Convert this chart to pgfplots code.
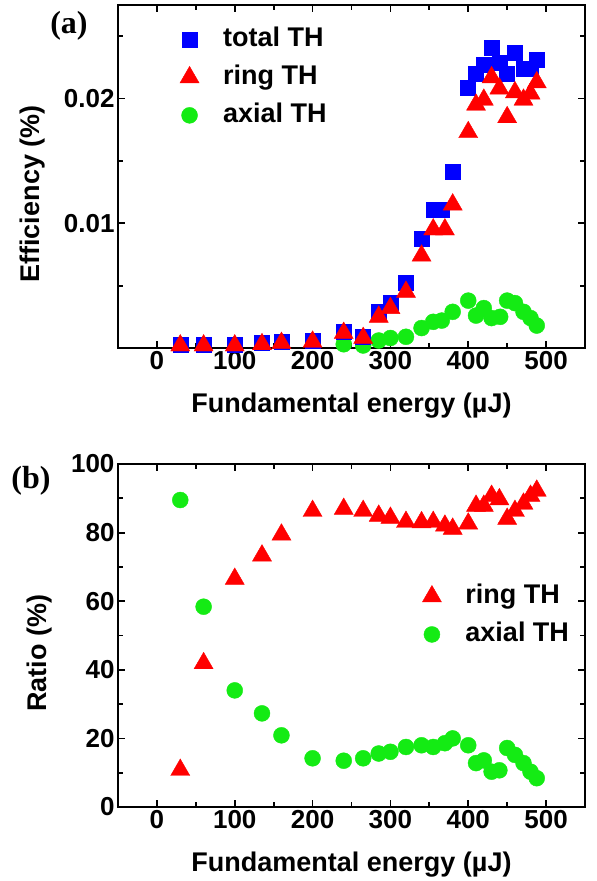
\documentclass[border=0pt]{standalone}
\usepackage{pgfplots}
\pgfplotsset{compat=1.18}
\usepackage{fontspec}
\setmainfont{Liberation Sans}
\newfontfamily\serifbold{Liberation Serif}

\definecolor{mblue}{RGB}{0,0,255}
\definecolor{mred}{RGB}{255,0,0}
\definecolor{mgreen}{RGB}{20,235,20}

% efficiency (%) vs fundamental energy (uJ)
\pgfplotstableread{
x y
30 0.0003
60 0.0003
100 0.0003
135 0.0004
160 0.0005
200 0.0006
240 0.0013
265 0.0009
285 0.0029
300 0.0036
320 0.0052
340 0.0088
355 0.0111
366 0.0111
380 0.0141
399 0.0209
409 0.0220
420 0.0227
430 0.0241
441 0.0229
450 0.0220
460 0.0237
471 0.0224
480 0.0224
488 0.0231
}\totaleff
\pgfplotstableread{
x y
30 0.0002
60 0.0002
100 0.0002
135 0.0003
160 0.0004
200 0.0005
240 0.0012
265 0.0008
285 0.0025
300 0.0032
320 0.0045
340 0.0074
355 0.0095
370 0.0095
380 0.0115
400 0.0173
410 0.0195
420 0.0199
430 0.0217
440 0.0208
450 0.0185
460 0.0205
471 0.0199
480 0.0204
488 0.0213
}\ringeff
\pgfplotstableread{
x y
240 0.0003
265 0.0002
285 0.0006
300 0.0008
320 0.0009
340 0.0016
355 0.0021
366 0.0022
380 0.0029
400 0.0038
410 0.0026
420 0.0032
430 0.0024
441 0.0025
450 0.0038
460 0.0036
471 0.0029
480 0.0024
488 0.0018
}\axialeff

% ratio (%)
\pgfplotstableread{
x y
30 10.8
60 41.9
100 66.5
135 73.3
160 79.4
200 86.3
240 86.9
265 86.3
285 84.9
300 84.3
320 83.1
340 83.0
355 83.1
370 82.0
380 81.1
400 82.6
410 87.8
420 87.8
430 90.7
440 89.7
450 84.0
460 86.3
471 88.4
480 90.7
488 92.2
}\ringratio
\pgfplotstableread{
x y
30 89.5
60 58.4
100 34.0
135 27.3
160 20.9
200 14.2
240 13.5
265 14.2
285 15.6
300 16.1
320 17.5
340 18.0
355 17.5
370 18.6
380 20.0
400 18.0
410 12.8
420 13.6
430 10.3
440 10.7
450 17.2
460 15.2
471 12.8
480 10.3
488 8.4
}\axialratio

\pgfplotsset{
  panel/.style={
    scale only axis, width=467pt, height=343pt,
    xmin=-50, xmax=550,
    xtick={0,100,...,500}, minor xtick={50,150,...,450},
    tick align=inside, tick pos=both,
    major tick length=7pt, minor tick length=5pt,
    tick style={line width=1.8pt, black},
    axis line style={line width=2.4pt},
    ticklabel style={font=\fontsize{26}{30}\selectfont\bfseries},
    label style={font=\fontsize{27}{32}\selectfont\bfseries},
    /pgf/number format/assume math mode=true,
    xlabel={Fundamental energy (µJ)},
    xlabel style={at={(axis description cs:0.5,-0.187)}, anchor=base},
    legend cell align=left,
    legend style={draw=none, fill=none,
      font=\fontsize{27}{32}\selectfont\bfseries,
      nodes={text height=20pt, text depth=6pt},
      /tikz/every odd column/.append style={column sep=22pt}},
  },
  tot/.style={only marks, mark=square*, mark size=7.5pt, color=mblue},
  rng/.style={only marks, mark=triangle*, mark size=11pt, color=mred},
  axl/.style={only marks, mark=*, mark size=8pt, color=mgreen},
}

\begin{document}
\begin{tikzpicture}
\useasboundingbox (0pt,0pt) rectangle (597pt,-881pt);

\begin{axis}[panel,
  at={(118pt,-348pt)}, anchor=south west,
  ymin=0, ymax=0.0275,
  ytick={0.01,0.02}, yticklabels={0.01,0.02},
  minor ytick={0.005,0.015,0.025},
  ylabel={Efficiency (\%)},
  ylabel style={at={(axis description cs:-0.184,0.449)}, anchor=center},
  legend style={at={(axis description cs:0.126,0.95)}, anchor=north west, row sep=8pt},
]
\addplot[axl, forget plot] table {\axialeff};
\addplot[tot] table {\totaleff};
\addplot[rng] table {\ringeff};
\addlegendimage{axl}
\legend{total TH, ring TH, axial TH}
\end{axis}

\begin{axis}[panel,
  at={(118pt,-807pt)}, anchor=south west,
  ymin=0, ymax=100,
  ytick={0,20,...,100}, minor ytick={10,30,...,90},
  ylabel={Ratio (\%)},
  ylabel style={at={(axis description cs:-0.167,0.448)}, anchor=center},
  legend style={at={(axis description cs:0.645,0.664)}, anchor=north west, row sep=8pt},
]
\addplot[rng] table {\ringratio};
\addplot[axl] table {\axialratio};
\legend{ring TH, axial TH}
\end{axis}

\node[font=\serifbold\fontsize{32}{36}\selectfont\bfseries] at (69pt,-26pt) {(a)};
\node[font=\serifbold\fontsize{32}{36}\selectfont\bfseries] at (31pt,-481pt) {(b)};
\end{tikzpicture}
\end{document}
